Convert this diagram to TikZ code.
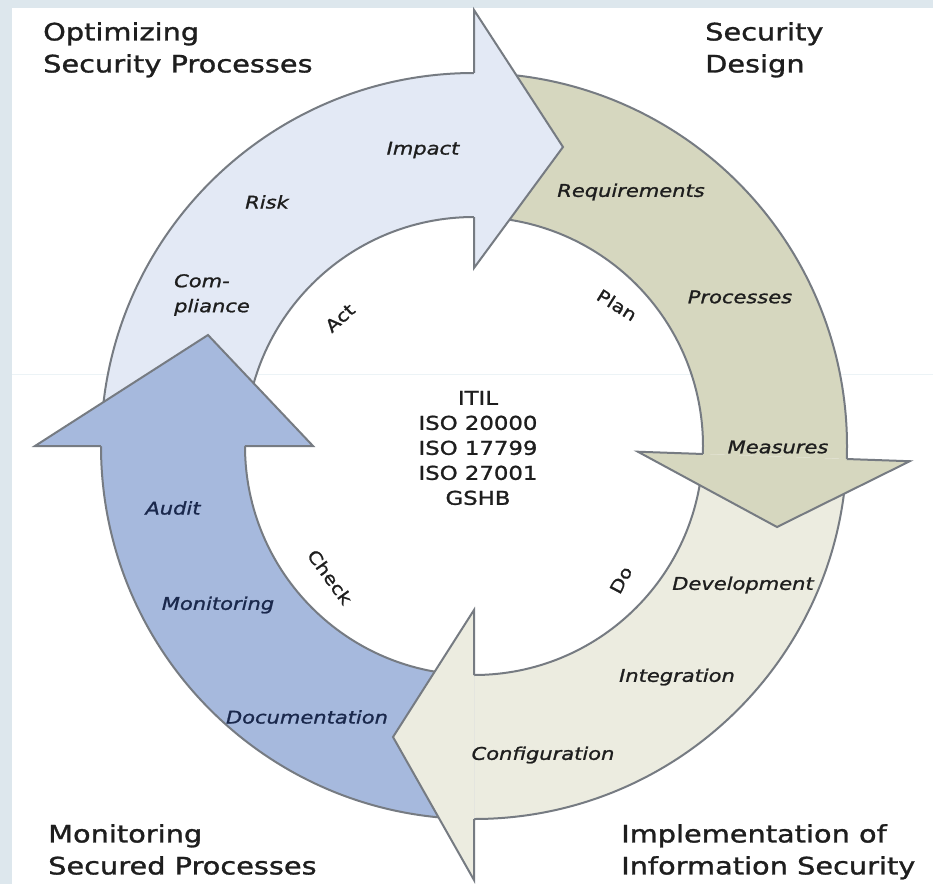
\documentclass[tikz,border=0pt]{standalone}
\usepackage{fontspec}
\setmainfont{DejaVu Sans}[FakeStretch=1.2, FakeBold=1.2, ItalicFont={DejaVu Sans Oblique}]
\usepackage{tikz}
\usetikzlibrary{positioning}
\usepackage{xcolor}
\definecolor{ActBlue}{RGB}{227,233,245}
\definecolor{PlanKhaki}{RGB}{214,215,191}
\definecolor{DoCream}{RGB}{236,236,224}
\definecolor{CheckBlue}{RGB}{166,185,221}
\definecolor{EdgeGray}{RGB}{118,123,130}
\definecolor{FrameBlue}{RGB}{221,231,237}
\definecolor{SeamBlue}{RGB}{236,243,246}
\definecolor{InkBlack}{RGB}{30,30,30}
\definecolor{InkNavy}{RGB}{26,40,76}
\tikzset{%
  ring_edge/.style={%
    draw=EdgeGray,%
    line width=2pt,%
    line join=miter,%
  },
  act_fill/.style={fill=ActBlue},
  plan_fill/.style={fill=PlanKhaki},
  do_fill/.style={fill=DoCream},
  check_fill/.style={fill=CheckBlue},
  seam_line/.style={draw=SeamBlue, line width=1pt},
  ring_label/.style={%
    font={\fontsize{17.5}{25}\selectfont\itshape},%
    color=InkBlack,%
    inner sep=0pt,%
  },
  phase_label/.style={%
    font={\fontsize{17}{20}\selectfont},%
    color=InkBlack,%
    inner sep=0pt,%
  },
  core_label/.style={%
    font={\fontsize{19}{25}\selectfont},%
    color=InkBlack,%
    align=center,%
    inner sep=0pt,%
  },
  title_label/.style={%
    font={\fontsize{24}{32}\selectfont},%
    color=InkBlack,%
    align=left,%
    anchor=north west,%
    inner sep=0pt,%
  },
}

\begin{document}
\begin{tikzpicture}[x=1pt, y=1pt]

    % page and frame
    \useasboundingbox (-474,-438) rectangle (459,446);
    \fill [white] (-474,-438) rectangle (459,446);
    \fill [FrameBlue] (-474,438) rectangle (459,446);
    \fill [FrameBlue] (-474,-438) rectangle (-462,446);
    \draw [seam_line] (-462,72) -- (459,72);

    % arrow bodies
    \fill [act_fill]
      (180:373) arc [start angle=180, end angle=90, radius=373]
      -- (90:229) arc [start angle=90, end angle=180, radius=229]
      -- cycle;
    \draw [ring_edge] (180:373) arc [start angle=180, end angle=90, radius=373];
    \draw [ring_edge] (180:229) arc [start angle=180, end angle=90, radius=229];

    \fill [plan_fill]
      (90:373) arc [start angle=90, end angle=-2, radius=373]
      -- (-2:229) arc [start angle=-2, end angle=90, radius=229]
      -- cycle;
    \draw [ring_edge] (90:373) arc [start angle=90, end angle=-2, radius=373];
    \draw [ring_edge] (90:229) arc [start angle=90, end angle=-2, radius=229];

    \fill [do_fill]
      (-2:373) arc [start angle=-2, end angle=-90, radius=373]
      -- (-90:229) arc [start angle=-90, end angle=-2, radius=229]
      -- cycle;
    \draw [ring_edge] (-2:373) arc [start angle=-2, end angle=-90, radius=373];
    \draw [ring_edge] (-2:229) arc [start angle=-2, end angle=-90, radius=229];

    \fill [check_fill]
      (270:373) arc [start angle=270, end angle=180, radius=373]
      -- (180:229) arc [start angle=180, end angle=270, radius=229]
      -- cycle;
    \draw [ring_edge] (270:373) arc [start angle=270, end angle=180, radius=373];
    \draw [ring_edge] (270:229) arc [start angle=270, end angle=180, radius=229];

    % arrow heads
    \filldraw [act_fill, ring_edge]
      (90:373) -- (90:436) -- (89,299) -- (90:178) -- (90:229);
    \filldraw [plan_fill, ring_edge]
      (-2:373) -- (-2:436) -- (303,-81) -- (-2:164) -- (-2:229);
    \filldraw [do_fill, ring_edge]
      (270:373) -- (270:434) -- (-81,-291) -- (270:164) -- (270:229);
    \filldraw [check_fill, ring_edge]
      (180:373) -- (180:439) -- (-266,111) -- (180:161) -- (180:229);

    % steps on the arrows
    \node [ring_label] (impact) at (-51,296) {Impact};
    \node [ring_label] (risk) at (-207,244) {Risk};
    \node [ring_label, align=left] (compliance) at (-262,151) {Com-\\pliance};
    \node [ring_label] (requirements) at (157,254) {Requirements};
    \node [ring_label] (processes) at (266,149) {Processes};
    \node [ring_label] (measures) at (304,-1) {Measures};
    \node [ring_label] (development) at (269,-139) {Development};
    \node [ring_label] (integration) at (203,-231) {Integration};
    \node [ring_label] (configuration) at (69,-309) {Configuration};
    \node [ring_label, color=InkNavy] (audit) at (-301,-62) {Audit};
    \node [ring_label, color=InkNavy] (monitoring) at (-256,-159) {Monitoring};
    \node [ring_label, color=InkNavy] (documentation) at (-167,-271) {Documentation};

    % phases inside the ring
    \node [phase_label, rotate=42] (act) at (-134,128) {Act};
    \node [phase_label, rotate=-32] (plan) at (143,141) {Plan};
    \node [phase_label, rotate=62] (do) at (147,-134) {Do};
    \node [phase_label, rotate=-54] (check) at (-144,-131) {Check};

    \node [core_label] (standards) at (4,-2) {%
      ITIL\\ISO 20000\\ISO 17799\\ISO 27001\\GSHB%
    };

    % corner titles
    \node [title_label] (optimizing) at (-431,424) {Optimizing\\Security Processes};
    \node [title_label] (design) at (231,424) {Security\\Design};
    \node [title_label] (secured) at (-426,-378) {Monitoring\\Secured Processes};
    \node [title_label] (implementation) at (147,-378) {Implementation of\\Information Security};
  \end{tikzpicture}
\end{document}
